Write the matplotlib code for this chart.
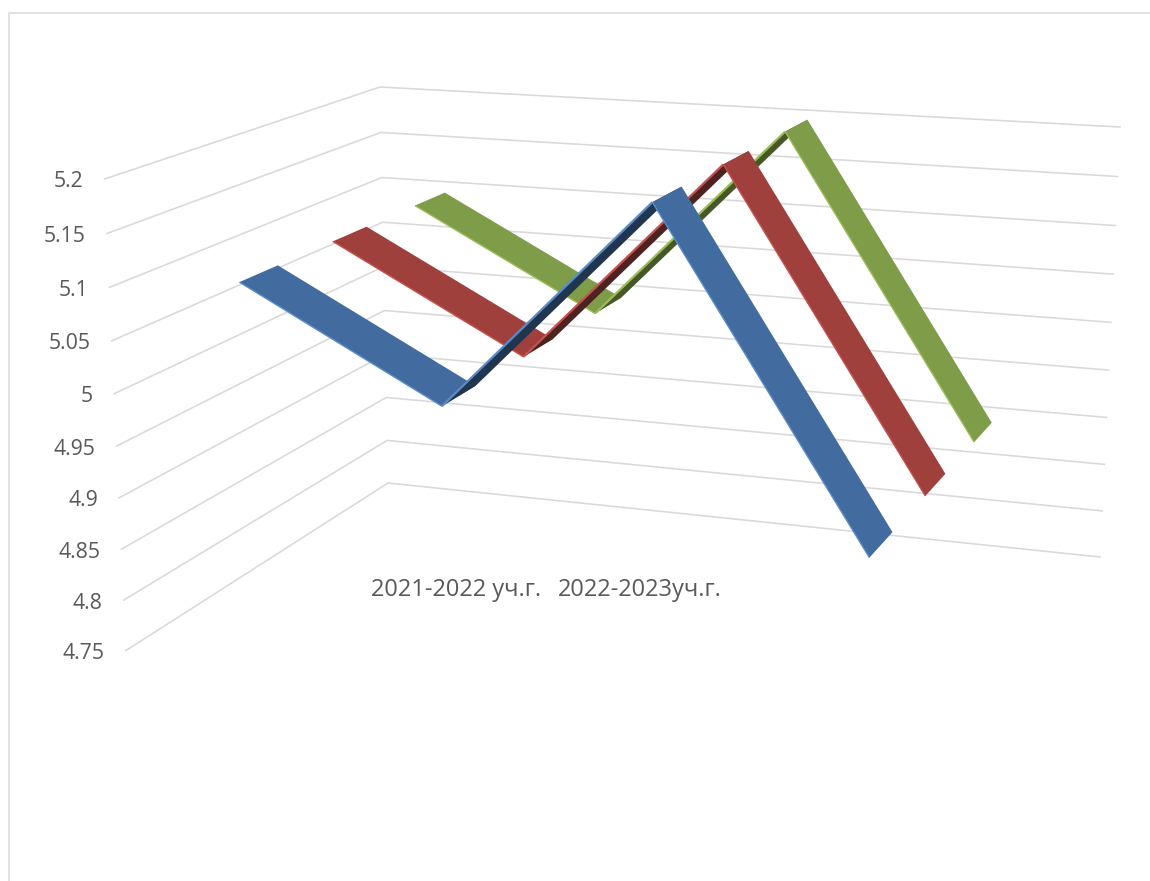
import numpy as np
import matplotlib
matplotlib.use("Agg")
import matplotlib.pyplot as plt
from matplotlib.patches import Polygon

# ---- data ----
tick_values = [4.75, 4.8, 4.85, 4.9, 4.95, 5.0, 5.05, 5.1, 5.15, 5.2]
tick_labels = ["4.75", "4.8", "4.85", "4.9", "4.95", "5", "5.05", "5.1", "5.15", "5.2"]
category_labels = ["2021-2022 уч.г.", "2022-2023уч.г."]
series_1 = [5.1, 5.0, 5.2, 4.9]
series_2 = [5.1, 5.0, 5.2, 4.9]
series_3 = [5.1, 5.0, 5.2, 4.9]

# ---- styles ----
plt.rcParams['font.family'] = ['Open Sans', 'DejaVu Sans']
GRID = "#D9D9D9"
TEXT = "#595959"
STYLES = [  # top face, underside, edge highlight
    ("#426C9F", "#1F3550", "#5C8CC6"),
    ("#A0403D", "#4E2220", "#C4524F"),
    ("#7F9C48", "#475727", "#9CBC5A"),
]
RIBBON_HALF = 0.066
CATEGORY_START = 0.125
CATEGORY_STEP = 0.248

# ---- camera: where the 3D box's wall corners fall on the canvas ----
WALL_CORNERS = [((0, 0, 0), (126, 650.5)), ((0, 0, 1), (104.5, 179)),
                ((0, 1, 0), (388, 483)), ((0, 1, 1), (380, 87)),
                ((1, 1, 0), (1100, 557)), ((1, 1, 1), (1120, 127))]
rows = []
for (x, y, z), (u, v) in WALL_CORNERS:
    rows.append([x, y, z, 1, 0, 0, 0, 0, -u*x, -u*y, -u*z, -u])
    rows.append([0, 0, 0, 0, x, y, z, 1, -v*x, -v*y, -v*z, -v])
CAM = np.linalg.svd(np.array(rows, float))[2][-1].reshape(3, 4)
vmin, vmax = tick_values[0], tick_values[-1]


def proj(x, depth, value):
    p = CAM @ np.array([x, depth, (value - vmin) / (vmax - vmin), 1.0])
    return p[0] / p[2], p[1] / p[2]


fig = plt.figure(figsize=(11.5, 8.81), dpi=100, facecolor="white")
ax = fig.add_axes([0, 0, 1, 1])
ax.set_xlim(0, 1150)
ax.set_ylim(881, 0)
ax.axis("off")

# chart frame (right and bottom sides fall off the canvas)
ax.plot([8.5, 8.5, 1150], [881, 12.5, 12.5], color=GRID, lw=1.1, zorder=1)

# gridlines on side and back walls + value labels
for val, lab in zip(tick_values, tick_labels):
    pts = [proj(0, 0, val), proj(0, 1, val), proj(1, 1, val)]
    ax.plot(*zip(*pts), color=GRID, lw=1.15, zorder=1, solid_joinstyle="miter")
    ax.text(pts[0][0] - 21, pts[0][1] + 3, lab, ha="right", va="center",
            color=TEXT, fontsize=15.3, zorder=5)

# ribbons, back series first
all_series = [series_1, series_2, series_3]
n_cat = len(series_1)
cat_x = [CATEGORY_START + CATEGORY_STEP * i for i in range(n_cat)]
n_ser = len(all_series)
for s in reversed(range(n_ser)):
    vals = all_series[s]
    centre = (s + 0.5) / n_ser
    front, back = centre - RIBBON_HALF, centre + RIBBON_HALF
    top, under, edge = STYLES[s]
    for i in range(n_cat - 1):
        quad = [proj(cat_x[i], front, vals[i]), proj(cat_x[i+1], front, vals[i+1]),
                proj(cat_x[i+1], back, vals[i+1]), proj(cat_x[i], back, vals[i])]
        q = np.array(quad)
        area = 0.5 * np.sum(q[:, 0] * np.roll(q[:, 1], -1) - np.roll(q[:, 0], -1) * q[:, 1])
        underside = area > 0
        z = 10 + 3 * (n_ser - s) + 0.1 * i
        ax.add_patch(Polygon(quad, closed=True, facecolor=under if underside else top,
                             edgecolor="none", zorder=z))
        ax.plot([quad[0][0], quad[1][0]], [quad[0][1], quad[1][1]], color=edge,
                lw=1.6 if underside else 1.0, zorder=z + 0.01, solid_capstyle="butt")

# category labels
for lab, cx in zip(category_labels, [456, 640]):
    ax.text(cx, 590, lab, ha="center", va="center", color=TEXT, fontsize=17, zorder=5)

fig.savefig("out.png", dpi=100, facecolor="white")
